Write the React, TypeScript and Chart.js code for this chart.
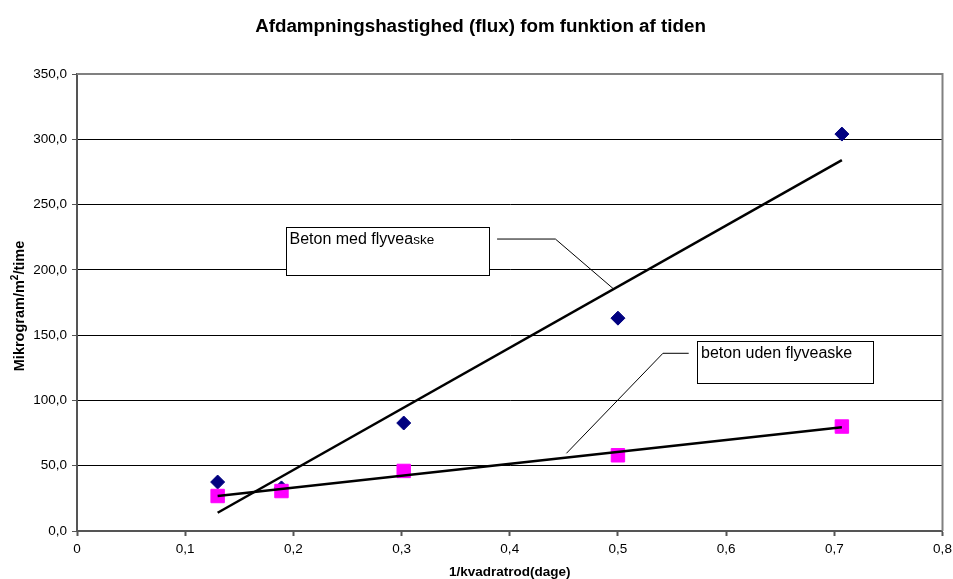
import React, { useEffect, useRef } from "react";
import { Chart, registerables } from "chart.js";

Chart.register(...registerables);

// ---- data ----
const xValues = [0.13, 0.189, 0.302, 0.5, 0.707];
const withAsh = [37.5, 33, 82.7, 163, 304];
const withoutAsh = [26.8, 30.6, 46, 58, 80];
const trendX = [0.13, 0.707];
const trendWithAsh = [14.0, 284.1];
const trendWithoutAsh = [26.8, 79.4];
const xTicks = [0, 0.1, 0.2, 0.3, 0.4, 0.5, 0.6, 0.7, 0.8];
const yTicks = [0, 50, 100, 150, 200, 250, 300, 350];

const TITLE = "Afdampningshastighed (flux) fom funktion af tiden";
const X_TITLE = "1/kvadratrod(dage)";
const Y_TITLE_PARTS = ["Mikrogram/m", "2", "/time"];
const LABEL_WITH = "Beton med flyvea";
const LABEL_WITH_SUFFIX = "ske";
const LABEL_WITHOUT = "beton uden flyveaske";

const FONT = "Arial, 'Liberation Sans', sans-serif";

const pts = (xs: number[], ys: number[]) => xs.map((x, i) => ({ x, y: ys[i] }));

const overlayPlugin = {
  id: "overlay",
  afterDatasetsDraw(chart: any) {
    const { ctx, scales, chartArea } = chart;
    const xs = scales.x;
    const ys = scales.y;
    const px = (v: number) => xs.getPixelForValue(v);
    const py = (v: number) => ys.getPixelForValue(v);
    ctx.save();

    // top and right border of plot area
    ctx.strokeStyle = "#808080";
    ctx.lineWidth = 2;
    ctx.beginPath();
    ctx.moveTo(chartArea.left, chartArea.top);
    ctx.lineTo(chartArea.right, chartArea.top);
    ctx.lineTo(chartArea.right, chartArea.bottom);
    ctx.stroke();

    // leader lines
    ctx.strokeStyle = "#000";
    ctx.lineWidth = 1;
    ctx.beginPath();
    ctx.moveTo(px(0.3883), py(223.6));
    ctx.lineTo(px(0.4422), py(223.6));
    ctx.lineTo(px(0.4961), py(185.3));
    ctx.stroke();
    ctx.beginPath();
    ctx.moveTo(px(0.5654), py(136.1));
    ctx.lineTo(px(0.5416), py(136.1));
    ctx.lineTo(px(0.4524), py(59.5));
    ctx.stroke();

    // callout boxes
    const box = (x0: number, x1: number, yT: number, yB: number) => {
      const l = Math.round(px(x0)) + 0.5;
      const r = Math.round(px(x1)) + 0.5;
      const t = Math.round(py(yT)) + 0.5;
      const b = Math.round(py(yB)) + 0.5;
      ctx.fillStyle = "#fff";
      ctx.fillRect(l, t, r - l, b - t);
      ctx.strokeStyle = "#000";
      ctx.lineWidth = 1;
      ctx.strokeRect(l, t, r - l, b - t);
      return { l, t };
    };
    const b1 = box(0.1928, 0.3809, 232.6, 195.8);
    ctx.fillStyle = "#000";
    ctx.textAlign = "left";
    ctx.textBaseline = "alphabetic";
    ctx.font = `16px ${FONT}`;
    ctx.fillText(LABEL_WITH, b1.l + 3, b1.t + 16.5);
    const w = ctx.measureText(LABEL_WITH).width;
    ctx.font = `13.5px ${FONT}`;
    ctx.fillText(LABEL_WITH_SUFFIX, b1.l + 3 + w, b1.t + 16.5);

    const b2 = box(0.573, 0.7356, 145.5, 113.1);
    ctx.fillStyle = "#000";
    ctx.font = `16px ${FONT}`;
    ctx.fillText(LABEL_WITHOUT, b2.l + 3.5, b2.t + 16.5);

    ctx.restore();
  },
  afterDraw(chart: any) {
    const { ctx, chartArea } = chart;
    ctx.save();
    ctx.fillStyle = "#000";
    ctx.textAlign = "center";
    ctx.textBaseline = "middle";
    ctx.font = `bold 18.8px ${FONT}`;
    ctx.fillText(TITLE, 480.5, 27);
    ctx.font = `bold 13.5px ${FONT}`;
    ctx.fillText(X_TITLE, (chartArea.left + chartArea.right) / 2, 572);

    // rotated y title with superscript
    const mainFont = `bold 14.5px ${FONT}`;
    const supFont = `bold 10px ${FONT}`;
    ctx.font = mainFont;
    const w0 = ctx.measureText(Y_TITLE_PARTS[0]).width;
    const w2 = ctx.measureText(Y_TITLE_PARTS[2]).width;
    ctx.font = supFont;
    const w1 = ctx.measureText(Y_TITLE_PARTS[1]).width;
    const total = w0 + w1 + w2;
    ctx.translate(19, 306);
    ctx.rotate(-Math.PI / 2);
    ctx.textAlign = "left";
    ctx.textBaseline = "alphabetic";
    let x = -total / 2;
    const base = 5;
    ctx.font = mainFont;
    ctx.fillText(Y_TITLE_PARTS[0], x, base);
    x += w0;
    ctx.font = supFont;
    ctx.fillText(Y_TITLE_PARTS[1], x, base - 6);
    x += w1;
    ctx.font = mainFont;
    ctx.fillText(Y_TITLE_PARTS[2], x, base);
    ctx.restore();
  },
};

export default function App() {
  const ref = useRef<HTMLCanvasElement | null>(null);
  useEffect(() => {
    if (!ref.current) return;
    Chart.defaults.font.family = FONT;
    const chart = new Chart(ref.current, {
      type: "scatter",
      data: {
        datasets: [
          {
            type: "line",
            label: "Trend med flyveaske",
            data: pts(trendX, trendWithAsh),
            borderColor: "#000",
            borderWidth: 2.5,
            pointRadius: 0,
            showLine: true,
            fill: false,
            order: 0,
          } as any,
          {
            type: "line",
            label: "Trend uden flyveaske",
            data: pts(trendX, trendWithoutAsh),
            borderColor: "#000",
            borderWidth: 2.5,
            pointRadius: 0,
            showLine: true,
            fill: false,
            order: 1,
          } as any,
          {
            label: "beton uden flyveaske",
            data: pts(xValues, withoutAsh),
            pointStyle: "rect",
            pointRadius: 9.5,
            backgroundColor: "#FF00FF",
            borderColor: "#FF00FF",
            borderWidth: 1,
            order: 2,
          },
          {
            label: "Beton med flyveaske",
            data: pts(xValues, withAsh),
            pointStyle: "rectRot",
            pointRadius: 7,
            backgroundColor: "#000080",
            borderColor: "#000080",
            borderWidth: 1,
            order: 3,
          },
        ],
      },
      options: {
        animation: false,
        responsive: false,
        devicePixelRatio: 1,
        layout: { padding: { top: 74, right: 10, left: 0, bottom: 0 } },
        plugins: {
          legend: { display: false },
          title: { display: false },
          tooltip: { enabled: false },
        },
        scales: {
          x: {
            type: "linear",
            min: 0,
            max: 0.8,
            afterBuildTicks: (s: any) => {
              s.ticks = xTicks.map((v) => ({ value: v }));
            },
            afterFit: (s: any) => {
              s.height = 48;
              s.paddingLeft = 0;
              s.paddingRight = 0;
            },
            ticks: {
              color: "#000",
              font: { size: 13.5 },
              padding: 5,
              callback: (v: any) => (Number(v) === 0 ? "0" : Number(v).toFixed(1).replace(".", ",")),
            },
            grid: { drawOnChartArea: false, tickLength: 5, tickColor: "#555", tickWidth: 2 } as any,
            border: { color: "#555", width: 2 },
          },
          y: {
            type: "linear",
            min: 0,
            max: 350,
            afterBuildTicks: (s: any) => {
              s.ticks = yTicks.map((v) => ({ value: v }));
            },
            afterFit: (s: any) => {
              s.width = 77;
              s.paddingTop = 0;
              s.paddingBottom = 0;
            },
            ticks: {
              color: "#000",
              font: { size: 13.5 },
              padding: 5,
              callback: (v: any) => Number(v).toFixed(1).replace(".", ","),
            },
            grid: { color: "#000", lineWidth: 1, tickLength: 5, tickColor: "#555" } as any,
            border: { color: "#555", width: 2 },
          },
        },
      },
      plugins: [overlayPlugin],
    });
    return () => chart.destroy();
  }, []);
  return (
    <div style={{ position: "absolute", left: 0, top: 0, width: 953, height: 579, background: "#fff" }}>
      <canvas ref={ref} width={953} height={579} />
    </div>
  );
}
